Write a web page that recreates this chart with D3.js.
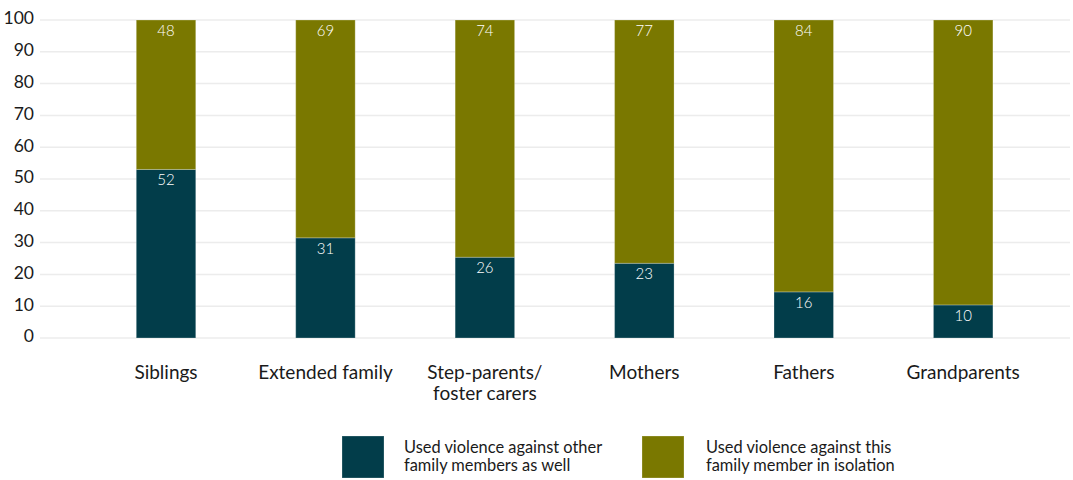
<!DOCTYPE html>
<html>
<head>
<meta charset="utf-8">
<script src="https://cdn.jsdelivr.net/npm/d3@7"></script>
<style>
  body { margin: 0; background: #fff; }
  svg text { font-family: Lato, "Noto Sans", sans-serif; }
</style>
</head>
<body>
<div id="my_dataviz"></div>
<script>
// chart data
const categories = ["Siblings", "Extended family", "Step-parents/\nfoster carers", "Mothers", "Fathers", "Grandparents"];
// bar heights as drawn in the picture
const otherValues = [53, 31.5, 25.4, 23.5, 14.5, 10.4];
const isolationValues = [47, 68.5, 74.6, 76.5, 85.5, 89.6];
// labels printed on the bars
const otherLabels = ["52", "31", "26", "23", "16", "10"];
const isolationLabels = ["48", "69", "74", "77", "84", "90"];
const yTicks = [0, 10, 20, 30, 40, 50, 60, 70, 80, 90, 100];
const seriesNames = [
  ["Used violence against other", "family members as well"],
  ["Used violence against this", "family member in isolation"]
];
const colors = ["#023d4a", "#7a7800"];

const width = 1073, height = 480;

const svg = d3.select("#my_dataviz")
  .append("svg")
  .attr("width", width)
  .attr("height", height);

// scales
const x = d3.scaleBand()
  .domain(categories)
  .range([86.3, 1042.9])
  .paddingInner(0.627)
  .paddingOuter(0.3135);

const y = d3.scaleLinear()
  .domain([0, 100])
  .range([338, 20]);

// gridlines
svg.append("g")
  .selectAll("line")
  .data(yTicks)
  .enter()
  .append("line")
  .attr("x1", 40)
  .attr("x2", 1070)
  .attr("y1", d => y(d))
  .attr("y2", d => y(d))
  .attr("stroke", "#ececec")
  .attr("stroke-width", 1.5);

// y axis labels
const yAxis = svg.append("g")
  .attr("transform", "translate(34,0)")
  .call(d3.axisLeft(y).tickValues(yTicks).tickSize(0).tickPadding(0));
yAxis.select(".domain").remove();
yAxis.selectAll("text")
  .attr("font-family", "Lato, sans-serif")
  .attr("font-size", 17.5)
  .attr("fill", "#1a1a1a")
  .attr("dy", "0.22em");

// stacked data
const rows = categories.map((c, i) => ({ cat: c, other: otherValues[i], isolation: isolationValues[i] }));
const stack = d3.stack().keys(["other", "isolation"]);
const series = stack(rows);

const labelSets = [otherLabels, isolationLabels];

series.forEach((s, si) => {
  const g = svg.append("g");
  g.selectAll("rect")
    .data(s)
    .enter()
    .append("rect")
    .attr("x", d => x(d.data.cat))
    .attr("width", x.bandwidth())
    .attr("y", d => y(d[1]))
    .attr("height", d => y(d[0]) - y(d[1]))
    .attr("fill", colors[si])
    .attr("stroke", "rgba(255,255,255,0.25)")
    .attr("stroke-width", 1);

  g.selectAll("text")
    .data(s)
    .enter()
    .append("text")
    .attr("x", d => x(d.data.cat) + x.bandwidth() / 2)
    .attr("y", d => y(d[1]) + 16)
    .attr("text-anchor", "middle")
    .attr("font-size", 15)
    .attr("font-weight", 300)
    .attr("fill", "#ffffff")
    .text((d, i) => labelSets[si][i]);
});

// category labels
const xLabels = svg.append("g");
categories.forEach(c => {
  const t = xLabels.append("text")
    .attr("x", x(c) + x.bandwidth() / 2)
    .attr("y", 379)
    .attr("text-anchor", "middle")
    .attr("font-size", 19)
    .attr("fill", "#1a1a1a");
  c.split("\n").forEach((line, li) => {
    t.append("tspan")
      .attr("x", x(c) + x.bandwidth() / 2)
      .attr("dy", li === 0 ? 0 : 21)
      .text(line);
  });
});

// legend
const legendX = [342, 642];
const legend = svg.append("g");
seriesNames.forEach((name, i) => {
  legend.append("rect")
    .attr("x", legendX[i])
    .attr("y", 436)
    .attr("width", 42)
    .attr("height", 42)
    .attr("fill", colors[i])
    .attr("stroke", "rgba(255,255,255,0.25)");
  const t = legend.append("text")
    .attr("x", legendX[i] + 62)
    .attr("y", 453)
    .attr("font-size", 16.4)
    .attr("fill", "#1a1a1a");
  name.forEach((line, li) => {
    t.append("tspan")
      .attr("x", legendX[i] + 62 + (i === 1 ? 2 : 0))
      .attr("dy", li === 0 ? 0 : 18)
      .text(line);
  });
});
</script>
</body>
</html>
